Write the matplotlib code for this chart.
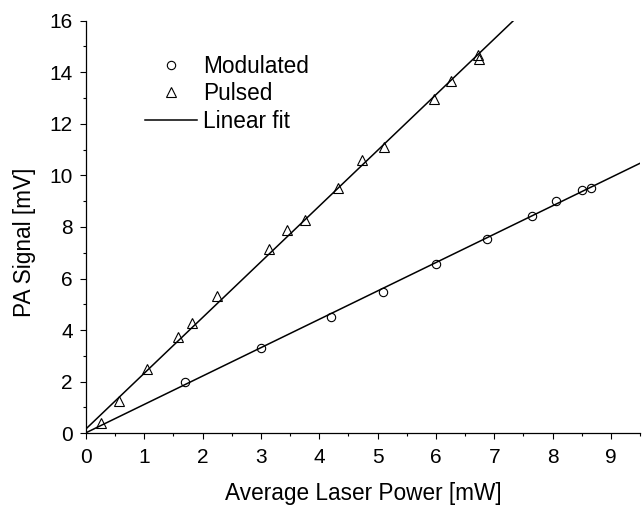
import matplotlib
matplotlib.use('Agg')
import matplotlib.pyplot as plt
import numpy as np
from matplotlib.ticker import MultipleLocator

# --- Daten ---
mod_power = [1.70, 3.00, 4.20, 5.10, 6.00, 6.88, 7.64, 8.06, 8.51, 8.66]
mod_signal = [2.00, 3.29, 4.50, 5.49, 6.56, 7.53, 8.42, 8.99, 9.43, 9.53]

pulse_power = [0.25, 0.57, 1.05, 1.57, 1.81, 2.25, 3.14, 3.45, 3.76, 4.33,
               4.73, 5.11, 5.97, 6.26, 6.73, 6.74]
pulse_signal = [0.40, 1.25, 2.48, 3.74, 4.26, 5.32, 7.13, 7.88, 8.29, 9.50,
                10.59, 11.11, 12.98, 13.65, 14.66, 14.50]

# lineare Fits: Achsenabschnitt, Steigung
mod_fit = (0.02, 1.10)
pulse_fit = (0.17, 2.16)

fit_x = [0, 9.5]

plt.rcParams['font.family'] = ['Liberation Sans', 'DejaVu Sans']

fig = plt.figure(figsize=(6.44, 5.07), dpi=100)
ax = fig.add_axes([0.1335, 0.1454, 0.8603, 0.8138])

ax.plot(mod_power, mod_signal, linestyle='none', marker='o', ms=6,
        mfc='none', mec='black', mew=0.8, label='Modulated')
ax.plot(pulse_power, pulse_signal, linestyle='none', marker='^', ms=7.5,
        mfc='none', mec='black', mew=0.8, label='Pulsed')

xs = np.array(fit_x)
ax.plot(xs, mod_fit[0] + mod_fit[1] * xs, color='black', lw=1.1, label='Linear fit')
ax.plot(xs, pulse_fit[0] + pulse_fit[1] * xs, color='black', lw=1.1)

ax.set_xlim(0, 9.5)
ax.set_ylim(0, 16)
ax.xaxis.set_major_locator(MultipleLocator(1))
ax.xaxis.set_minor_locator(MultipleLocator(0.5))
ax.yaxis.set_major_locator(MultipleLocator(2))
ax.yaxis.set_minor_locator(MultipleLocator(1))

for s in ['top', 'right']:
    ax.spines[s].set_visible(False)
for s in ['left', 'bottom']:
    ax.spines[s].set_linewidth(0.9)

ax.tick_params(which='major', direction='out', length=4.5, width=0.8,
               labelsize=15, pad=5)
ax.tick_params(axis='x', which='major', pad=6)
ax.tick_params(which='minor', direction='out', length=2.3, width=0.8)

ax.set_xlabel('Average Laser Power [mW]', fontsize=16.3)
ax.set_ylabel('PA Signal [mV]', fontsize=16.3)
ax.xaxis.set_label_coords(0.5, -0.117)
ax.yaxis.set_label_coords(-0.091, 0.464)

ax.legend(loc='upper left', bbox_to_anchor=(0.1065, 0.918), frameon=False,
          fontsize=16.3, numpoints=1, handlelength=2.3, handletextpad=0.27,
          labelspacing=0.2, borderpad=0, borderaxespad=0)

fig.savefig('out.png', dpi=100)
